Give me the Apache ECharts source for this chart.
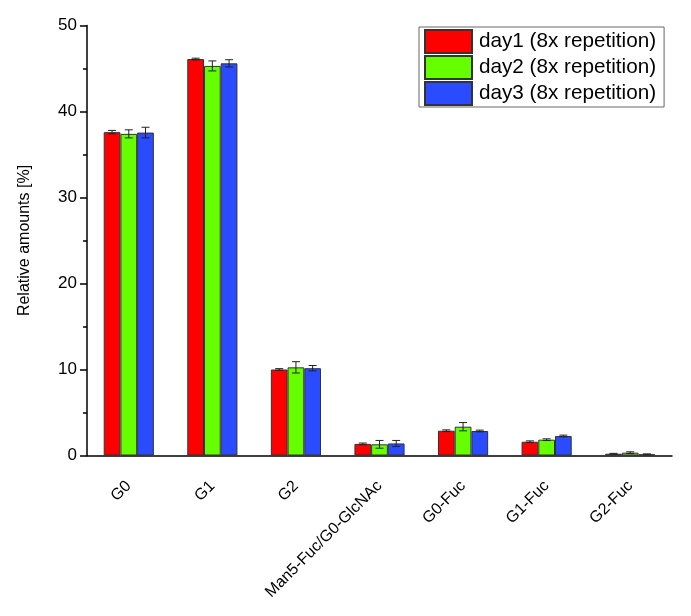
<!DOCTYPE html>
<html>
<head>
<meta charset="utf-8">
<script src="https://cdn.jsdelivr.net/npm/echarts@6/dist/echarts.min.js"></script>
<style>
  html, body { margin: 0; padding: 0; background: #fff; }
  #chart { width: 691px; height: 616px; }
</style>
</head>
<body>
<div id="chart"></div>
<script>
// categories and values
var categories = ['G0', 'G1', 'G2', 'Man5-Fuc/G0-GlcNAc', 'G0-Fuc', 'G1-Fuc', 'G2-Fuc'];
var seriesNames = ['day1 (8x repetition)', 'day2 (8x repetition)', 'day3 (8x repetition)'];
var day1 = [37.6, 46.1, 10.0, 1.35, 2.88, 1.6, 0.2];
var day2 = [37.4, 45.3, 10.25, 1.3, 3.35, 1.84, 0.33];
var day3 = [37.55, 45.6, 10.15, 1.4, 2.85, 2.27, 0.14];
var err1 = [0.2, 0.1, 0.1, 0.1, 0.1, 0.1, 0.05];
var err2 = [0.47, 0.58, 0.66, 0.45, 0.48, 0.1, 0.1];
var err3 = [0.62, 0.42, 0.31, 0.35, 0.1, 0.1, 0.05];
var yTicks = [0, 10, 20, 30, 40, 50];

var colors = ['#ff0000', '#66ff00', '#2a4bff'];
var groupRatio = 0.6; // bars take 60% of a category

var chart = echarts.init(document.getElementById('chart'));

function errorSeries(idx, vals, errs) {
    var data = vals.map(function (v, i) { return [i, v - errs[i], v + errs[i]]; });
    return {
        type: 'custom',
        name: seriesNames[idx] + ' err',
        xAxisIndex: 0,
        z: 10,
        silent: true,
        renderItem: function (params, api) {
            var band = api.size([1, 0])[0];
            var barW = band * groupRatio / 3;
            var off = (idx - 1) * barW;
            var lo = api.coord([api.value(0), api.value(1)]);
            var hi = api.coord([api.value(0), api.value(2)]);
            var x = lo[0] + off;
            var cap = 4;
            var st = { stroke: '#222', lineWidth: 1 };
            return {
                type: 'group',
                children: [
                    { type: 'line', shape: { x1: x, y1: lo[1], x2: x, y2: hi[1] }, style: st },
                    { type: 'line', shape: { x1: x - cap, y1: hi[1], x2: x + cap, y2: hi[1] }, style: st },
                    { type: 'line', shape: { x1: x - cap, y1: lo[1], x2: x + cap, y2: lo[1] }, style: st }
                ]
            };
        },
        encode: { x: 0, y: [1, 2] },
        data: data
    };
}

function barSeries(idx, vals) {
    return {
        type: 'bar',
        name: seriesNames[idx],
        xAxisIndex: 0,
        data: vals,
        barGap: '0%',
        barCategoryGap: '40%',
        itemStyle: { color: colors[idx], borderColor: '#333', borderWidth: 1 }
    };
}

chart.setOption({
    animation: false,
    textStyle: { fontFamily: 'Liberation Sans, Arial, sans-serif', color: '#000' },
    grid: { left: 87, right: 19, top: 25.5, bottom: 160.5, containLabel: false },
    legend: {
        data: seriesNames,
        orient: 'vertical',
        left: 419,
        top: 27,
        itemWidth: 47,
        itemHeight: 23,
        itemGap: 1,
        icon: 'rect',
        borderColor: '#666',
        borderWidth: 1,
        padding: [2, 8, 1, 5],
        textStyle: { fontSize: 20.7, lineHeight: 23, color: '#000', padding: [0, 0, 0, 2] }
    },
    xAxis: [{
        type: 'category',
        data: categories,
        axisLine: { lineStyle: { color: '#000', width: 1.5 } },
        axisTick: { alignWithLabel: true, length: 7, lineStyle: { color: '#000', width: 1.5 } },
        axisLabel: { rotate: 45, fontSize: 16, color: '#000', margin: 28, interval: 0 }
    }, {
        type: 'category',
        data: categories,
        position: 'bottom',
        axisLine: { show: false },
        axisTick: { length: 4, lineStyle: { color: '#000', width: 1.5 } },
        axisLabel: { show: false }
    }],
    yAxis: {
        type: 'value',
        min: yTicks[0],
        max: yTicks[yTicks.length - 1],
        interval: 10,
        name: 'Relative amounts [%]',
        nameLocation: 'middle',
        nameGap: 54,
        nameTextStyle: { fontSize: 16, color: '#000' },
        axisLine: { show: true, lineStyle: { color: '#000', width: 1.5 } },
        axisTick: { show: true, length: 7, lineStyle: { color: '#000', width: 1.5 } },
        minorTick: { show: true, splitNumber: 2, length: 4, lineStyle: { color: '#000', width: 1.5 } },
        splitLine: { show: false },
        axisLabel: { fontSize: 17, color: '#000', margin: 10 }
    },
    series: [
        barSeries(0, day1),
        barSeries(1, day2),
        barSeries(2, day3),
        errorSeries(0, day1, err1),
        errorSeries(1, day2, err2),
        errorSeries(2, day3, err3)
    ]
});
</script>
</body>
</html>
